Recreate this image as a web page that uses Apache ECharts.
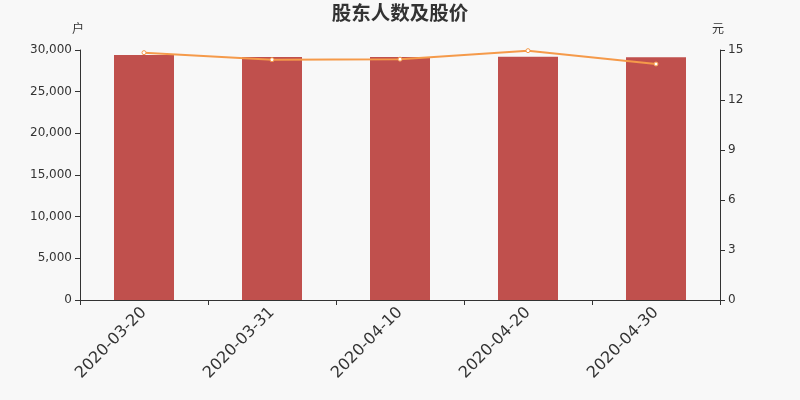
<!DOCTYPE html>
<html><head><meta charset="utf-8">
<script src="https://cdn.jsdelivr.net/npm/echarts@6/dist/echarts.min.js"></script>
<style>html,body{margin:0;padding:0;background:#f8f8f8}#c{width:800px;height:400px}</style>
</head><body><div id="c"></div>
<script>
const categories = ['2020-03-20','2020-03-31','2020-04-10','2020-04-20','2020-04-30'];
const holders = [29400, 29160, 29170, 29190, 29130];
const prices = [14.84, 14.42, 14.45, 14.96, 14.16];
const chart = echarts.init(document.getElementById('c'));
const axisText = {color:'#333', fontFamily:'DejaVu Sans', fontSize:12};
chart.setOption({
  backgroundColor:'#f8f8f8',
  animation:false,
  title:{text:'股东人数及股价', left:'center', top:-2, textStyle:{fontSize:19.5, fontWeight:'bold', color:'#333', fontFamily:'Noto Sans CJK SC'}},
  grid:{left:80, right:80, top:50, bottom:100},
  xAxis:{type:'category', data:categories, axisTick:{show:true, alignWithLabel:false, lineStyle:{color:'#333'}}, axisLine:{lineStyle:{color:'#333'}},
    axisLabel:{rotate:45, fontSize:16, color:'#333', fontFamily:'DejaVu Sans', margin:10}},
  yAxis:[
    {type:'value', name:'户', min:0, max:30000, interval:5000, nameGap:16, nameTextStyle:{color:'#333', fontFamily:'Noto Sans CJK SC', align:'center', padding:[0,4,0,0]},
     axisLine:{show:true, lineStyle:{color:'#333'}}, axisTick:{show:true}, splitLine:{show:false},
     axisLabel:Object.assign({formatter:v=>v.toLocaleString('en-US')}, axisText)},
    {type:'value', name:'元', min:0, max:15, interval:3, nameGap:16, nameTextStyle:{color:'#333', fontFamily:'Noto Sans CJK SC', align:'center', padding:[0,4,0,0]},
     axisLine:{show:true, lineStyle:{color:'#333'}}, axisTick:{show:true}, splitLine:{show:false}, axisLabel:axisText}
  ],
  series:[
    {type:'bar', data:holders, barWidth:60, itemStyle:{color:'#c0504d'}},
    {type:'line', yAxisIndex:1, data:prices, symbol:'circle', symbolSize:4,
     lineStyle:{color:'#f59a4a', width:2}, itemStyle:{color:'#fff', borderColor:'#f59a4a', borderWidth:1}}
  ]
});
</script></body></html>
